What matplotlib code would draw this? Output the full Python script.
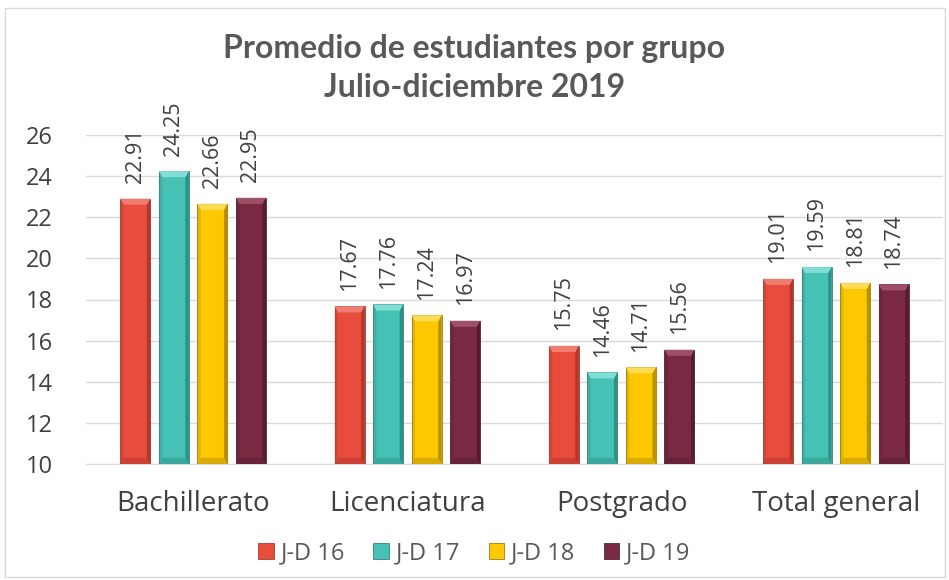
import matplotlib
matplotlib.use("Agg")
import matplotlib.pyplot as plt
from matplotlib.patches import Rectangle, Polygon
import numpy as np

plt.rcParams['font.family'] = ['Open Sans', 'DejaVu Sans']

# data
categories = ["Bachillerato", "Licenciatura", "Postgrado", "Total general"]
series = ["J-D 16", "J-D 17", "J-D 18", "J-D 19"]
jd16 = [22.91, 17.67, 15.75, 19.01]
jd17 = [24.25, 17.76, 14.46, 19.59]
jd18 = [22.66, 17.24, 14.71, 18.81]
jd19 = [22.95, 16.97, 15.56, 18.74]
values = [jd16, jd17, jd18, jd19]
colors = ["#E84C3D", "#45C2B5", "#FDC800", "#7B2943"]
dark = ["#8E2A20", "#236F68", "#8A6B00", "#3E1322"]
light = ["#F48A7E", "#8FE6DC", "#FFE26A", "#A85A73"]

fig = plt.figure(figsize=(9.49, 5.8), dpi=100)
fig.patch.set_facecolor("white")
# chart border
fig.add_artist(Rectangle((5/949, 0.005), 0.99, 1 - 8/580 - 0.005, transform=fig.transFigure,
                         fill=False, edgecolor="#D9D9D9", lw=1))

ax = fig.add_axes([86/949, 1 - 464/580, 857/949, (464 - 135)/580])

x = np.arange(len(categories))
w = 0.14
step = 0.18
base = 10
for i, (vals, c) in enumerate(zip(values, colors)):
    pos = x + (i - 1.5) * step
    bars = ax.bar(pos, np.array(vals) - base, w, bottom=base, color=c, label=series[i],
                  edgecolor=dark[i], linewidth=0.5, zorder=3)
    for b, v in zip(bars, vals):
        bx, bw = b.get_x(), b.get_width()
        bh = 0.3
        bv = 0.016
        # bevel: right side darker, top lighter
        ax.add_patch(Polygon([(bx + bw, base), (bx + bw, v), (bx + bw - bv, v - bh), (bx + bw - bv, base + bh)],
                             closed=True, color=dark[i], alpha=0.6, lw=0, zorder=4))
        ax.add_patch(Polygon([(bx, v), (bx + bw, v), (bx + bw - bv, v - bh), (bx + bv, v - bh)],
                             closed=True, color=light[i], alpha=0.8, lw=0, zorder=4))
        ax.add_patch(Polygon([(bx, base), (bx + bw, base), (bx + bw - bv, base + bh), (bx + bv, base + bh)],
                             closed=True, color=dark[i], alpha=0.3, lw=0, zorder=4))
        ax.add_patch(Polygon([(bx, base), (bx, v), (bx + bv, v - bh), (bx + bv, base + bh)],
                             closed=True, color=dark[i], alpha=0.2, lw=0, zorder=4))
        ax.text(bx + bw / 2, v + 0.75, f"{v:.2f}", rotation=90, ha="center", va="bottom",
                fontsize=15.5, color="#404040", zorder=5)

ax.set_xlim(-0.5, 3.5)
ax.set_ylim(10, 26)
ax.set_yticks(range(10, 27, 2))
ax.set_xticks(x)
ax.set_xticklabels(categories, fontsize=20, color="#404040")
ax.tick_params(axis="y", labelsize=17, colors="#404040", length=0, pad=24)
ax.tick_params(axis="x", length=0, pad=19)
ax.grid(axis="y", color="#D9D9D9", lw=1, zorder=0)
for s in ["top", "right", "left"]:
    ax.spines[s].set_visible(False)
ax.spines["bottom"].set_color("#D9D9D9")

fig.text(0.5, 1 - 68/580, "Promedio de estudiantes por grupo\nJulio-diciembre 2019", ha="center", va="center",
         fontsize=23, fontweight="bold", color="#595959", linespacing=1.45, family="Lato")

leg = fig.legend(loc="center", bbox_to_anchor=(0.5, 1 - 553/580), ncol=4, frameon=False, fontsize=17,
                 handlelength=0.65, handleheight=0.65, handletextpad=0.3, columnspacing=1.2)
for t in leg.get_texts():
    t.set_color("#595959")

fig.savefig("out.png", dpi=100)
